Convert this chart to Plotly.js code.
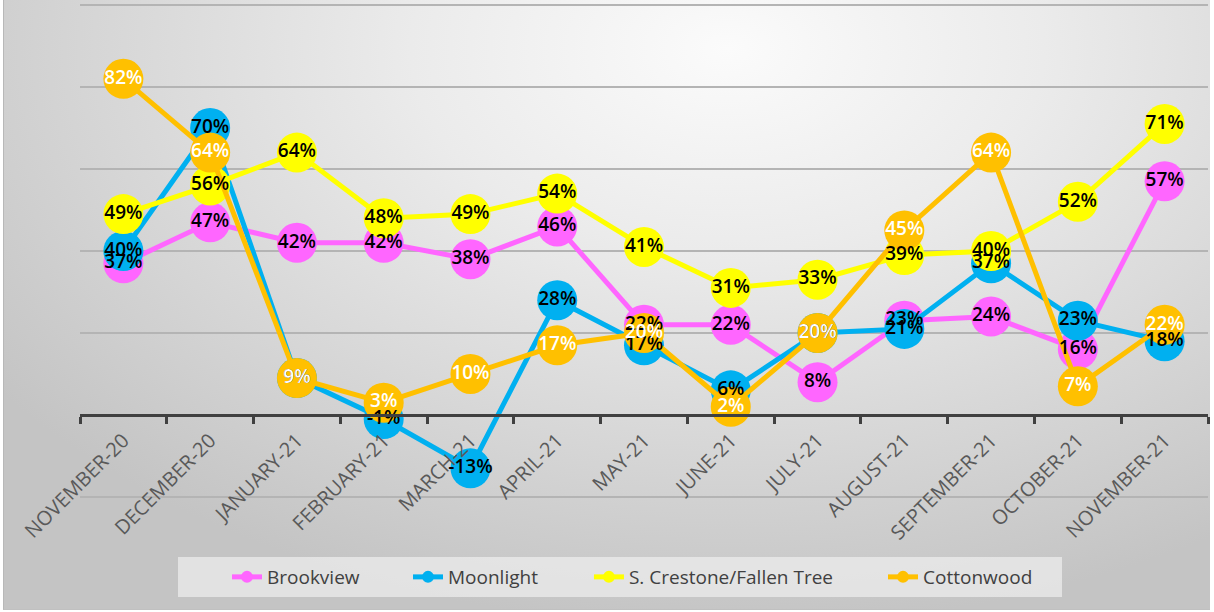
<!DOCTYPE html>
<html>
<head>
<meta charset="utf-8">
<script src="https://cdn.plot.ly/plotly-3.0.1.min.js"></script>
<style>
  html, body { margin: 0; padding: 0; background: #ffffff; }
  #frame {
    position: absolute; left: 3px; top: 0px; width: 1206px; height: 609px;
    border-left: 1px solid #b8b8b8; border-bottom: 1px solid #c0c0c0;
    background: radial-gradient(ellipse 75% 95% at 60% 8%, #fbfbfb 0%, #ebebeb 35%, #d6d6d6 70%, #c4c4c4 100%);
  }
  #chart { position: absolute; left: 0; top: 0; width: 1214px; height: 612px; }
</style>
</head>
<body>
<div id="frame"></div>
<div id="chart"></div>
<script>
const months = ["NOVEMBER-20", "DECEMBER-20", "JANUARY-21", "FEBRUARY-21", "MARCH-21", "APRIL-21",
  "MAY-21", "JUNE-21", "JULY-21", "AUGUST-21", "SEPTEMBER-21", "OCTOBER-21", "NOVEMBER-21"];
const seriesNames = ["Brookview", "Moonlight", "S. Crestone/Fallen Tree", "Cottonwood"];
const brookview  = [37, 47, 42, 42, 38, 46, 22, 22, 8, 23, 24, 16, 57];
const moonlight  = [40, 70, 9, -1, -13, 28, 17, 6, 20, 21, 37, 23, 18];
const crestone   = [49, 56, 64, 48, 49, 54, 41, 31, 33, 39, 40, 52, 71];
const cottonwood = [82, 64, 9, 3, 10, 17, 20, 2, 20, 45, 64, 7, 22];

const seriesValues = [brookview, moonlight, crestone, cottonwood];
const colors = ["#FF66FF", "#00B0F0", "#FFFF00", "#FFC000"];
const labelColors = ["#000000", "#000000", "#000000", "#FFFFFF"];
const legendIds = ["legend", "legend2", "legend3", "legend4"];
const legendX = [0.1303, 0.2908, 0.4512, 0.7119];

const traces = [];
seriesValues.forEach((vals, i) => {
  traces.push({
    type: "scatter", mode: "lines+markers", name: seriesNames[i],
    legend: legendIds[i],
    x: months, y: vals,
    line: { color: colors[i], width: 5 },
    marker: { color: colors[i], size: 40, line: { width: 0 } },
    cliponaxis: false, hoverinfo: "x+y+name"
  });
});
seriesValues.forEach((vals, i) => {
  traces.push({
    type: "scatter", mode: "text", showlegend: false,
    x: months, y: vals,
    text: vals.map(v => v + "%"),
    textposition: "middle center",
    textfont: { family: "Open Sans, sans-serif", size: 19, weight: 600, color: labelColors[i] },
    cliponaxis: false, hoverinfo: "skip"
  });
});

const legendBase = (x) => ({
  orientation: "h",
  x: x, xanchor: "left",
  y: -0.1573, yanchor: "middle",
  bgcolor: "rgba(0,0,0,0)",
  borderwidth: 0,
  font: { family: "Open Sans, sans-serif", size: 19, color: "#404040" },
  itemsizing: "constant"
});

const layout = {
  width: 1214, height: 612,
  margin: { l: 80, r: 6, t: 3, b: 113 },
  paper_bgcolor: "rgba(0,0,0,0)",
  plot_bgcolor: "rgba(0,0,0,0)",
  showlegend: true,
  xaxis: {
    type: "category",
    range: [-0.5, 12.5],
    anchor: "free", position: 20.5 / 121,
    showline: true, linecolor: "#404040", linewidth: 3,
    ticks: "outside", tickson: "boundaries", ticklen: 7, tickwidth: 3, tickcolor: "#404040",
    showgrid: false, zeroline: false,
    tickangle: -45, ticklabelstandoff: 4,
    tickfont: { family: "Open Sans, sans-serif", size: 20, color: "#595959" }
  },
  yaxis: {
    range: [-20.5, 100.5], domain: [0, 1],
    dtick: 20, tick0: 0,
    showgrid: true, gridcolor: "#B4B4B4", gridwidth: 2,
    showticklabels: false, zeroline: false, showline: false, ticks: ""
  },
  legend: legendBase(legendX[0]),
  legend2: legendBase(legendX[1]),
  legend3: legendBase(legendX[2]),
  legend4: legendBase(legendX[3]),
  shapes: [{
    type: "rect", xref: "paper", yref: "paper", layer: "below",
    x0: (178 - 80) / 1128, x1: (1062 - 80) / 1128,
    y0: -0.1976, y1: -0.1169,
    fillcolor: "rgba(236,236,236,0.75)", line: { width: 0 }
  }],
  hovermode: "closest"
};

Plotly.newPlot("chart", traces, layout, { displayModeBar: false });
</script>
</body>
</html>
